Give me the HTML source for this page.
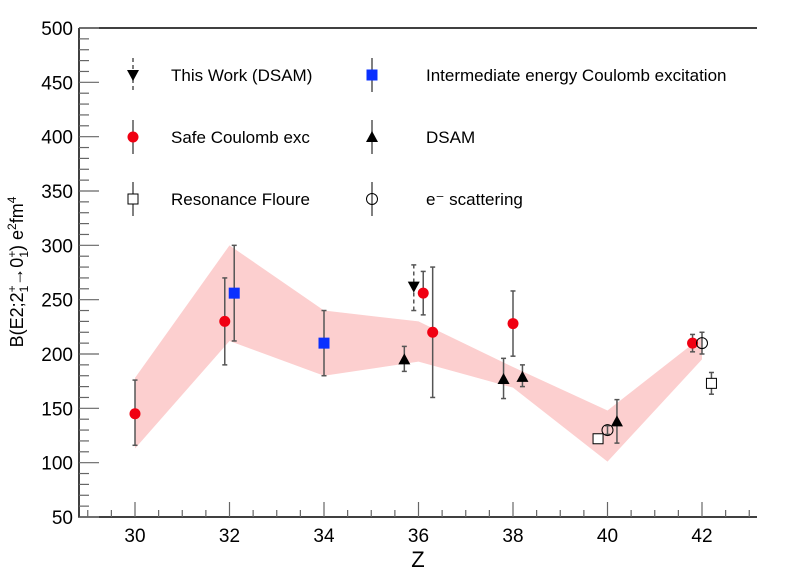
<!DOCTYPE html>
<html><head><meta charset="utf-8"><style>
body{margin:0;background:#fff}
svg{font-family:"Liberation Sans",Arial,sans-serif}
</style></head><body>
<svg id="c" width="798" height="575" viewBox="0 0 798 575">
<g id="band"></g><g id="axes"></g><g id="marks"></g><g id="legend"></g>
</svg>
<script>
const bandZ=[30,32,34,36,38,40,42];
const bandUpper=[178,300,240,230,188,148,216];
const bandLower=[113,212,180,193,169,101,195];
const safeZ=[30,31.9,36.1,36.3,38,41.8];
const safeV=[145,230,256,220,228,210];
const safeLo=[116,190,236,160,198,202];
const safeHi=[176,270,276,280,258,218];
const interZ=[32.1,34];
const interV=[256,210];
const interLo=[212,180];
const interHi=[300,240];
const dsamZ=[35.7,37.8,38.2,40.2];
const dsamV=[195,177,179,138];
const dsamLo=[184,159,170,118];
const dsamHi=[207,196,190,158];
const thisZ=[35.9];
const thisV=[262];
const thisLo=[240];
const thisHi=[282];
const resZ=[39.8,42.2];
const resV=[122,173];
const resLo=[118,163];
const resHi=[126,183];
const escZ=[40,42];
const escV=[130,210];
const escLo=[126,200];
const escHi=[134,220];
const yTicks=[50,100,150,200,250,300,350,400,450,500];
const xTicks=[30,32,34,36,38,40,42];

const NS="http://www.w3.org/2000/svg";
const X0=79,X1=757,Y0=517,Y1=28;
function sx(z){return 135+(z-30)*47.25;}
function sy(v){return Y0-(v-50)*(Y0-Y1)/450;}
function el(t,a,p){const e=document.createElementNS(NS,t);for(const k in a)e.setAttribute(k,a[k]);p.appendChild(e);return e;}
const band=document.getElementById('band'),axes=document.getElementById('axes'),marks=document.getElementById('marks'),leg=document.getElementById('legend');

let pts=bandZ.map((z,i)=>sx(z)+','+sy(bandUpper[i]));
for(let i=bandZ.length-1;i>=0;i--)pts.push(sx(bandZ[i])+','+sy(bandLower[i]));
const poly=el('polygon',{points:pts.join(' '),fill:'#fccfcf'},band);



const ax=el('path',{d:`M${X0},${Y1}H${X1}M${X0},${Y1}V${Y0}H${X1}`,stroke:'#000','stroke-width':1.5,fill:'none'},axes);


for(let v=50;v<=500;v+=10){const major=(v%50===0);el('line',{x1:X0,x2:X0+(major?20:10),y1:sy(v),y2:sy(v),stroke:'#666','stroke-width':1.2},axes);}
yTicks.forEach(v=>{const t=el('text',{x:X0-6,y:sy(v)+7,'text-anchor':'end','font-size':19},axes);t.textContent=v;

});
for(let z=29;z<=43;z+=0.5){const x=sx(z);if(x<X0||x>X1)continue;const major=(Math.abs(z%2)<1e-6);el('line',{x1:x,x2:x,y1:Y0,y2:Y0-(major?15:7),stroke:'#666','stroke-width':1.2},axes);}
xTicks.forEach(z=>{const t=el('text',{x:sx(z),y:Y0+25,'text-anchor':'middle','font-size':19},axes);t.textContent=z;

});
const xt=el('text',{x:418,y:567,'text-anchor':'middle','font-size':22},axes);xt.textContent='Z';


const yt=el('text',{transform:'translate(23,272) rotate(-90)','text-anchor':'middle','font-size':18},axes);
yt.innerHTML='B(E2;2<tspan dy="-7" font-size="12">+</tspan><tspan dy="12" dx="-7" font-size="12">1</tspan><tspan dy="-5">→0</tspan><tspan dy="-7" font-size="12">+</tspan><tspan dy="12" dx="-7" font-size="12">1</tspan><tspan dy="-5">) e</tspan><tspan dy="-7" font-size="12">2</tspan><tspan dy="7">fm</tspan><tspan dy="-7" font-size="12">4</tspan>';



function marker(g,type,x,y){
 if(type==='circle')el('circle',{cx:x,cy:y,r:5.5,fill:'#f00012'},g);
 else if(type==='bsq')el('rect',{x:x-5.5,y:y-5.5,width:11,height:11,fill:'#0a30ff'},g);
 else if(type==='tri')el('polygon',{points:`${x},${y-6} ${x-6},${y+5} ${x+6},${y+5}`,fill:'#000'},g);
 else if(type==='dtri')el('polygon',{points:`${x},${y+6} ${x-6},${y-5} ${x+6},${y-5}`,fill:'#000'},g);
 else if(type==='osq')el('rect',{x:x-5,y:y-5,width:10,height:10,fill:'#fff',stroke:'#000','stroke-width':1},g);
 else if(type==='ocirc')el('circle',{cx:x,cy:y,r:5.5,fill:'none',stroke:'#000','stroke-width':1},g);
}
function series(name,Z,V,Lo,Hi,type,dash){
 Z.forEach((z,i)=>{
  const g=el('g',{},marks);
  
  
  const x=sx(z);
  const a={stroke:'#555','stroke-width':1.5};if(dash)a['stroke-dasharray']='4,3';
  el('line',Object.assign({x1:x,x2:x,y1:sy(Lo[i]),y2:sy(Hi[i])},a),g);
  el('line',{x1:x-2.5,x2:x+2.5,y1:sy(Lo[i]),y2:sy(Lo[i]),stroke:'#555','stroke-width':1.5},g);
  el('line',{x1:x-2.5,x2:x+2.5,y1:sy(Hi[i]),y2:sy(Hi[i]),stroke:'#555','stroke-width':1.5},g);
  marker(g,type,x,sy(V[i]));
 });
}
series('safe-coulomb',safeZ,safeV,safeLo,safeHi,'circle');
series('intermediate-coulomb',interZ,interV,interLo,interHi,'bsq');
series('dsam',dsamZ,dsamV,dsamLo,dsamHi,'tri');
series('this-work',thisZ,thisV,thisLo,thisHi,'dtri',true);
series('resonance',resZ,resV,resLo,resHi,'osq');
series('e-scattering',escZ,escV,escLo,escHi,'ocirc');

const L=[[133,75,'dtri','This Work (DSAM)',38,true],[372,75,'bsq','Intermediate energy Coulomb excitation',54],
[133,137,'circle','Safe Coulomb exc',38],[372,137,'tri','DSAM',54],
[133,199,'osq','Resonance Floure',38],[372,199,'ocirc','e⁻ scattering',54]];
L.forEach(l=>{
 const g=el('g',{},leg);
 
 
 const a={x1:l[0],x2:l[0],y1:l[1]-17,y2:l[1]+17,stroke:'#555','stroke-width':1.5};if(l[5])a['stroke-dasharray']='4,3';
 el('line',a,g);marker(g,l[2],l[0],l[1]);
 const t=el('text',{x:l[0]+l[4],y:l[1]+6,'font-size':17},g);t.textContent=l[3];
});
</script>
</body></html>
